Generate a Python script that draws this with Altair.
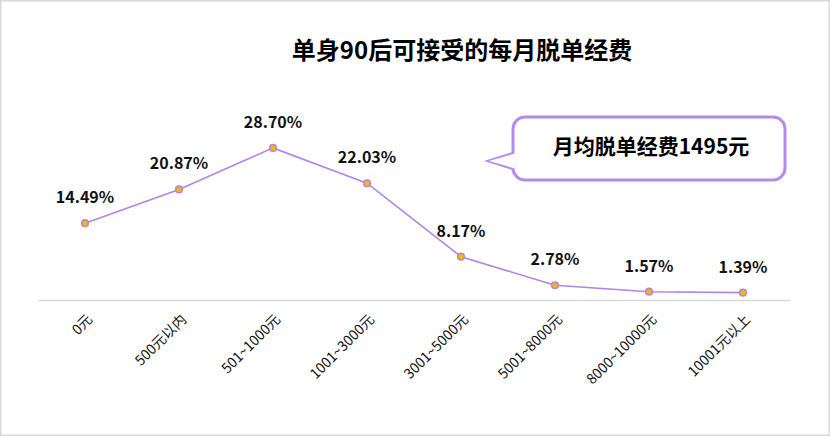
import altair as alt
import pandas as pd

categories = ["0元", "500元以内", "501~1000元", "1001~3000元", "3001~5000元",
              "5001~8000元", "8000~10000元", "10001元以上"]
values = [14.49, 20.87, 28.70, 22.03, 8.17, 2.78, 1.57, 1.39]
labels = [f"{v:.2f}%" for v in values]
title_text = "单身90后可接受的每月脱单经费"
bubble_text = "月均脱单经费1495元"

FONT = "Noto Sans CJK SC"
PURPLE = "#B084EA"
ORANGE = "#F7B500"

df = pd.DataFrame({"cat": categories, "val": values, "label": labels})

W, H = 752, 212
PL, PT, PR, PB = 38, 88, 40, 136

x = alt.X("cat:N", sort=categories,
          scale=alt.Scale(type="point", padding=0.5),
          axis=alt.Axis(title=None, labelAngle=-45, ticks=False,
                        domainColor="#D9D9D9", domainWidth=1.5,
                        labelFont=FONT, labelFontSize=14, labelColor="#111111",
                        labelPadding=12))
y = alt.Y("val:Q", scale=alt.Scale(domain=[0, 40]), axis=None)

base = alt.Chart(df)

line = base.mark_line(color=PURPLE, strokeWidth=1.6).encode(x=x, y=y)
pts = base.mark_point(filled=True, fill=ORANGE, stroke=PURPLE, strokeWidth=1.5,
                      size=45, opacity=1).encode(x=x, y=y)
txt = base.mark_text(font=FONT, fontSize=16, fontWeight="bold", color="#111111",
                     dy=-25).encode(x=x, y=y, text="label:N")

# outer border
border = alt.Chart(pd.DataFrame({"a": [0]})).mark_rect(
    fill=None, stroke="#D9D9D9", strokeWidth=1.5
).encode(x=alt.value(-PL + 0.75), x2=alt.value(W + PR - 0.75),
         y=alt.value(-PT + 0.75), y2=alt.value(H + PB - 0.75))

title = alt.Chart(pd.DataFrame({"t": [title_text]})).mark_text(
    font=FONT, fontSize=24, fontWeight="bold", color="#000000", baseline="middle"
).encode(x=alt.value(462 - PL), y=alt.value(52 - PT), text="t:N")

bubble = alt.Chart(pd.DataFrame({"a": [0]})).mark_rect(
    fill="white", stroke="#B58BE9", strokeWidth=3, cornerRadius=12
).encode(x=alt.value(513 - PL), x2=alt.value(785 - PL),
         y=alt.value(117 - PT), y2=alt.value(180 - PT))

tail_fill = alt.Chart(pd.DataFrame({"a": [0]})).mark_point(
    shape="M -1 0 L 1.15 -0.625 L 1.15 0.625 Z", size=576,
    filled=True, fill="white", stroke=None, strokeWidth=0, opacity=1
).encode(x=alt.value(501 - PL), y=alt.value(161 - PT))

tail_stroke = alt.Chart(pd.DataFrame({"a": [0]})).mark_point(
    shape="M 1 -0.625 L -1 0 L 1 0.625", size=576,
    filled=False, stroke="#B58BE9", strokeWidth=3, strokeJoin="miter", opacity=1
).encode(x=alt.value(501 - PL), y=alt.value(161 - PT))

btext = alt.Chart(pd.DataFrame({"t": [bubble_text]})).mark_text(
    font=FONT, fontSize=21, fontWeight="bold", color="#000000", baseline="middle"
).encode(x=alt.value(651 - PL), y=alt.value(148 - PT), text="t:N")

chart = alt.layer(border, title, line, pts, txt, bubble, tail_stroke, tail_fill, btext).properties(
    width=W, height=H,
    autosize=alt.AutoSizeParams(type="none"),
    padding={"left": PL, "top": PT, "right": PR, "bottom": PB},
    background="white",
).configure_view(stroke=None)

chart.save("out.html", embed_options={"renderer": "svg", "actions": False})
